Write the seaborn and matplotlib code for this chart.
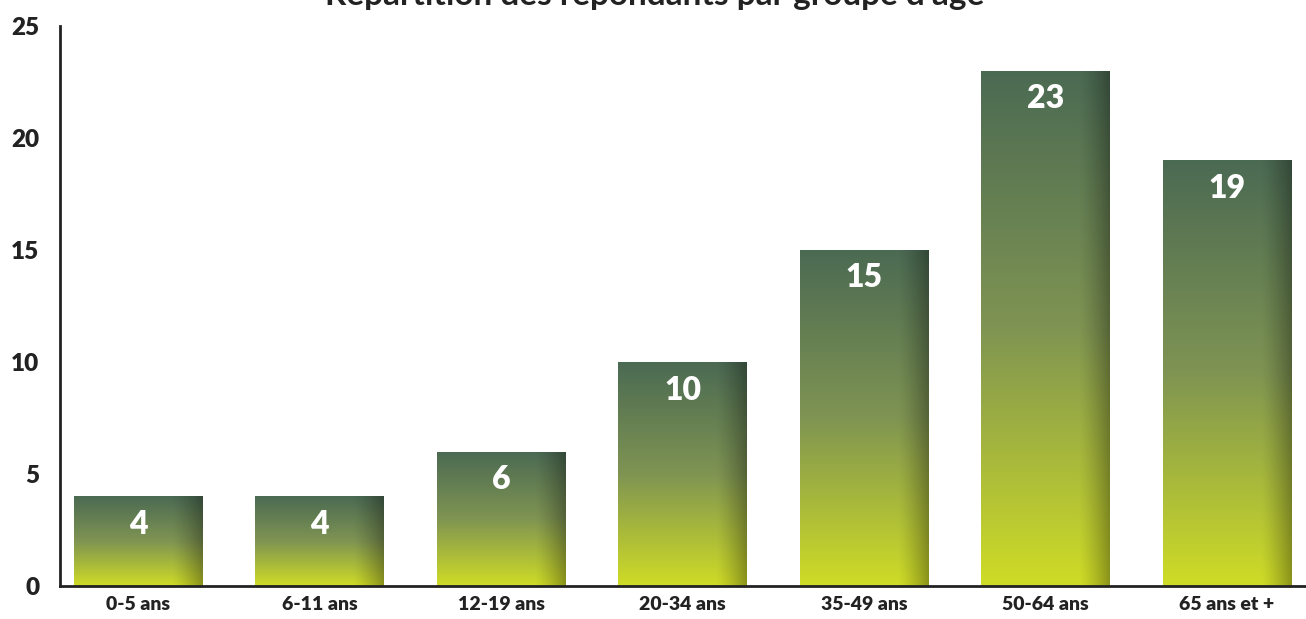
import numpy as np
import pandas as pd
import matplotlib.pyplot as plt
import seaborn as sns
from matplotlib.colors import to_rgb

groupes = ["0-5 ans", "6-11 ans", "12-19 ans", "20-34 ans", "35-49 ans", "50-64 ans", "65 ans et +"]
repondants = [4, 4, 6, 10, 15, 23, 19]
titre = "Répartition des répondants par groupe d'âge"

df = pd.DataFrame({"groupe": groupes, "n": repondants})

sns.set_style("white")
plt.rcParams['font.family'] = ['Lato', 'DejaVu Sans']

fig = plt.figure(figsize=(13.06, 6.19), dpi=100)
ax = fig.add_axes([60/1306, 33/619, 1246/1306, 560/619])

sns.barplot(data=df, x="groupe", y="n", color="#6b8550", width=0.71, ax=ax, zorder=2)

# vertical gradient (dark green top -> yellow green bottom) + dark right edge
top = np.array(to_rgb("#4b6a53"))
mid = np.array(to_rgb("#7f9452"))
bot = np.array(to_rgb("#cfdc26"))
ny, nx = 200, 100
t = np.linspace(0, 1, ny)[:, None]
col = np.where(t[..., None] < 0.5,
               top + (mid - top) * (t[..., None] / 0.5),
               mid + (bot - mid) * ((t[..., None] - 0.5) / 0.5))
col = np.repeat(col, nx, axis=1)
u = np.linspace(0, 1, nx)[None, :]
shade = 1 - 0.32 * np.clip((u - 0.76) / 0.24, 0, 1) ** 1.3
img = col * shade[..., None]

for p in ax.patches:
    x0, y0 = p.get_x(), p.get_y()
    w, h = p.get_width(), p.get_height()
    p.set_facecolor("none")
    p.set_edgecolor("none")
    im = ax.imshow(img, extent=[x0, x0 + w, y0, y0 + h], aspect="auto",
                   origin="upper", zorder=2, interpolation="bilinear")
    im.set_clip_path(p)
    ax.text(x0 + w / 2, h - 1.25, f"{int(h)}", ha="center", va="center",
            color="white", fontsize=23, fontweight="heavy", zorder=3)

ax.set_xlim(-0.43, 6.435)
ax.set_ylim(0, 25)
ax.set_yticks([0, 5, 10, 15, 20, 25])
ax.set_xlabel("")
ax.set_ylabel("")
ax.tick_params(axis="y", length=10, width=2, color="#222222", labelsize=17.5, pad=5)
ax.tick_params(axis="x", length=0, labelsize=14, pad=7)
for lab in ax.get_xticklabels() + ax.get_yticklabels():
    lab.set_fontweight("heavy")
    lab.set_color("#222222")
for s in ["top", "right"]:
    ax.spines[s].set_visible(False)
for s in ["left", "bottom"]:
    ax.spines[s].set_linewidth(2)
    ax.spines[s].set_color("#222222")

# title sits partly above the top edge, as in the original
fig.text(655/1306, 1 - 5/619, titre, ha="center", va="baseline",
         fontsize=24, color="#222222", fontweight="bold")

fig.savefig("out.png", dpi=100)
